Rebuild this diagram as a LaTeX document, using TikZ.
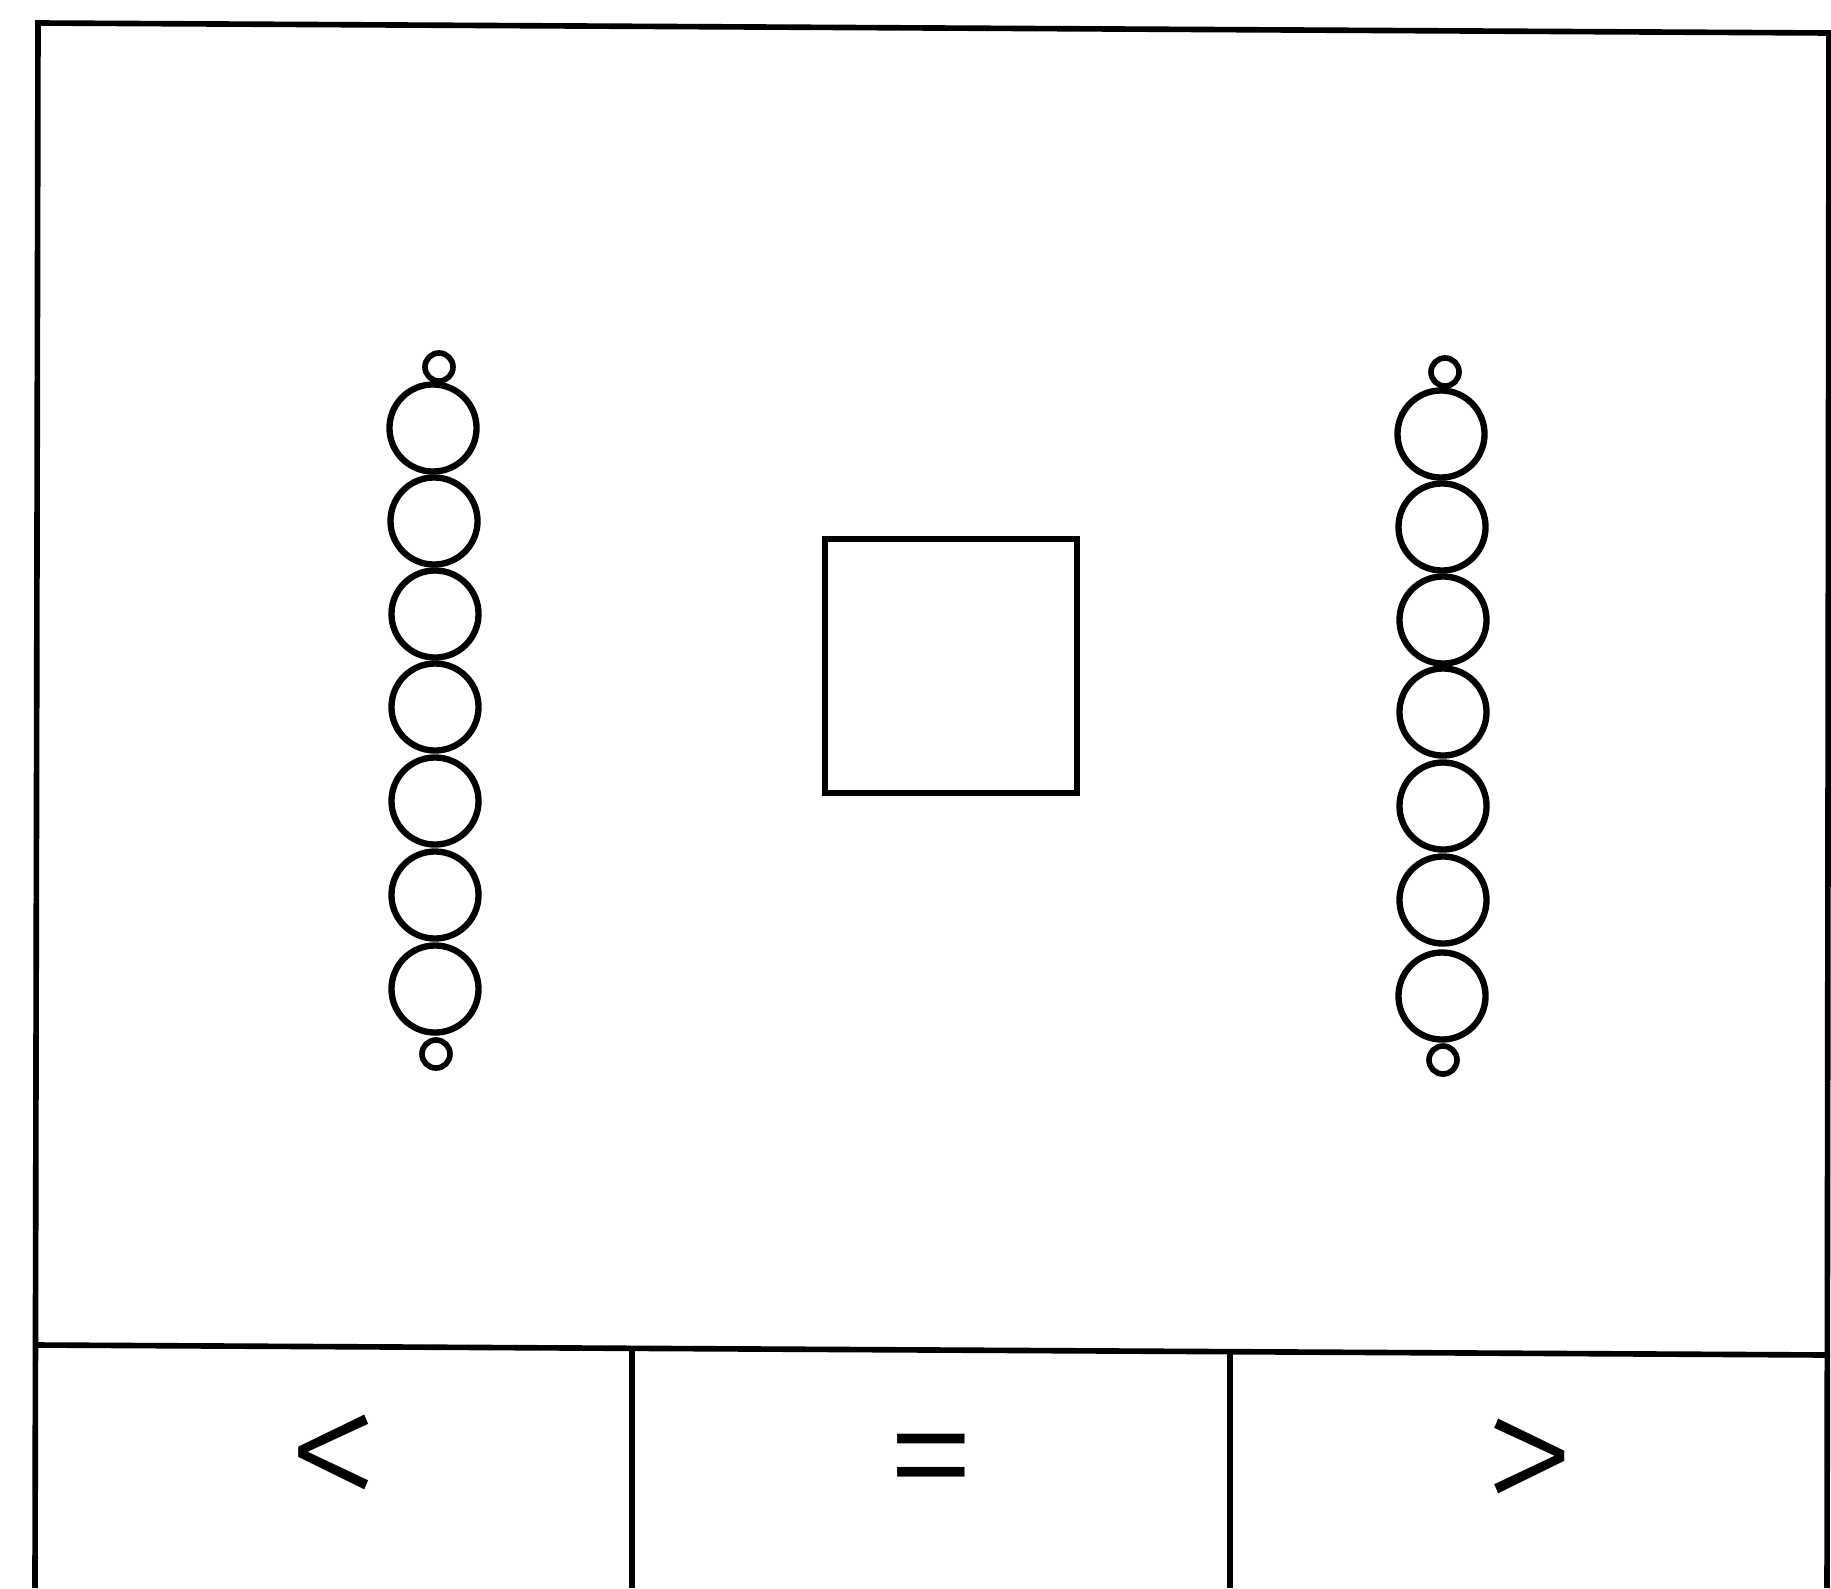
\documentclass[tikz,border=0pt]{standalone}
\usepackage{fontspec}
\setmainfont{Liberation Sans}
\newfontfamily\symfnt{Fira Sans Light}
\begin{document}
\begin{tikzpicture}[x=0.01cm,y=-0.01cm,
  frameline/.style={line width=1.6pt,black},
  bead/.style={circle,draw,line width=1.8pt,inner sep=0pt,minimum size=0.87cm},
  knot/.style={circle,draw,line width=1.6pt,inner sep=0pt,minimum size=0.28cm},
  box/.style={rectangle,draw,line width=1.7pt,inner sep=0pt,minimum width=2.52cm,minimum height=2.54cm},
  sym/.style={inner sep=0pt,font=\symfnt\fontsize{54}{54}\selectfont}]
\useasboundingbox (0,0) rectangle (1831,1588);
\fill[white] (0,0) rectangle (1831,1588);
% frame
\coordinate (tl) at (38,23);
\coordinate (tr) at (1829,33);
\coordinate (bl) at (35,1588);
\coordinate (br) at (1827,1588);
\coordinate (ml) at (37,1345);
\coordinate (mr) at (1828,1355);
\coordinate (d1t) at (632,1347);
\coordinate (d1b) at (632,1588);
\coordinate (d2t) at (1230,1350);
\coordinate (d2b) at (1230,1588);
\draw[frameline] (bl) -- (tl) -- (tr) -- (br);
\draw[frameline] (ml) -- (mr);
\draw[frameline] (d1t) -- (d1b);
\draw[frameline] (d2t) -- (d2b);
% left chain
\node[knot] (lk1) at (439,367) {};
\node[bead] (lb1) at (433,428) {};
\node[bead] (lb2) at (434,521) {};
\node[bead] (lb3) at (435,614) {};
\node[bead] (lb4) at (435,707) {};
\node[bead] (lb5) at (435,801) {};
\node[bead] (lb6) at (435,895) {};
\node[bead] (lb7) at (435,989) {};
\node[knot] (lk2) at (436,1054) {};
% right chain
\node[knot] (rk1) at (1445,372) {};
\node[bead] (rb1) at (1441,434) {};
\node[bead] (rb2) at (1442,527) {};
\node[bead] (rb3) at (1443,620) {};
\node[bead] (rb4) at (1443,712) {};
\node[bead] (rb5) at (1443,806) {};
\node[bead] (rb6) at (1443,900) {};
\node[bead] (rb7) at (1442,996) {};
\node[knot] (rk2) at (1443,1060) {};
% square
\node[box] (sq) at (951,666) {};
% symbols
\node[sym] (lt) at (334,1465) {<};
\node[sym] (eq) at (931,1476) {=};
\node[sym] (gt) at (1530,1469) {>};
\end{tikzpicture}
\end{document}
